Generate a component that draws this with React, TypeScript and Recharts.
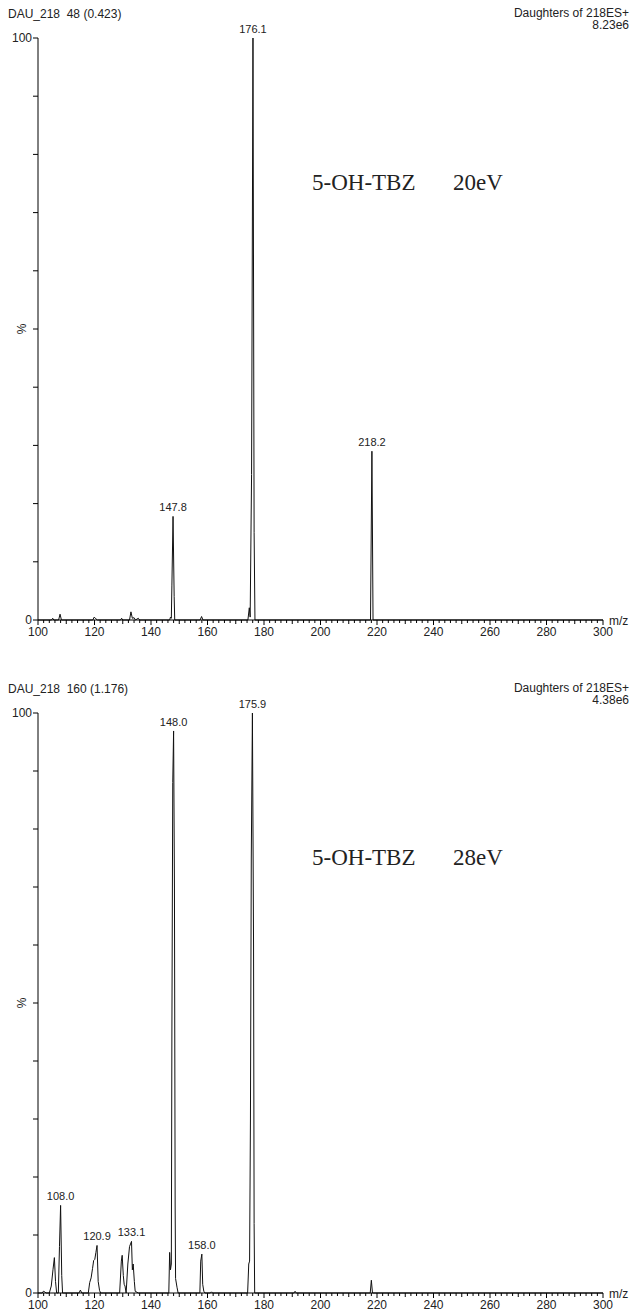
import React from "react";
import { ComposedChart, Line, Scatter, XAxis, YAxis } from "recharts";

// profile spectra: [m/z, relative intensity %]
const spectrum20eV: [number, number][] = [
  [100, 0], [104.8, 0], [105.2, 0.3], [105.6, 0], [107.3, 0], [107.8, 1.0], [108.3, 0],
  [119.4, 0], [119.9, 0.5], [120.5, 0.2], [121, 0], [129.2, 0], [129.6, 0.3], [130, 0],
  [132.4, 0], [132.9, 1.4], [133.4, 0.3], [134, 0.4], [134.5, 0], [135.5, 0.3], [136, 0],
  [146.6, 0], [146.9, 0.5], [147.2, 0.3], [147.4, 6], [147.8, 17.8], [148.2, 4], [148.4, 0],
  [157.4, 0], [157.9, 0.6], [158.4, 0], [174.3, 0], [174.8, 2.1], [175.1, 0.5],
  [175.6, 25], [176.1, 100], [176.5, 15], [176.8, 0], [217.7, 0], [218.2, 29], [218.6, 0],
  [300, 0],
];

const spectrum28eV: [number, number][] = [
  [100, 0], [101.5, 0], [101.9, 0.3], [102.4, 0.2], [102.8, 0], [104, 0], [104.7, 1.2],
  [105.3, 4], [105.8, 6.1], [106.2, 2], [106.6, 0], [107.2, 0], [107.6, 8], [108.0, 15.1],
  [108.4, 3], [108.7, 0], [114.5, 0], [115, 0.5], [115.5, 0], [117.8, 0], [118.3, 1.8],
  [118.8, 2.6], [119.3, 4.2], [119.7, 5.6], [120.1, 5.8], [120.5, 7], [120.9, 8.2],
  [121.3, 2], [121.8, 0.4], [122.2, 0], [128.9, 0], [129.5, 5.5], [129.8, 6.5], [130.2, 3],
  [130.5, 1.5], [130.8, 1.2], [131.2, 0], [131.8, 5], [132.4, 8], [133.1, 8.9], [133.4, 4],
  [133.7, 5], [134.1, 2], [134.4, 0.3], [135.5, 0], [146.3, 0], [146.6, 7], [146.9, 4],
  [147.2, 5], [147.4, 45], [147.7, 88], [148.0, 96.9], [148.3, 70], [148.55, 15],
  [148.7, 2.5], [149.2, 1], [149.6, 0], [157.3, 0], [157.6, 5.5], [158.0, 6.7], [158.3, 1.5],
  [158.7, 0.3], [159.1, 0], [161, 0], [161.4, 0.2], [161.8, 0], [174.2, 0], [174.6, 5],
  [174.9, 5.5], [175.2, 30], [175.5, 75], [175.9, 100], [176.3, 60], [176.5, 12],
  [176.7, 0], [190.6, 0], [191, 0.3], [191.4, 0], [217.6, 0], [218.0, 2.2], [218.4, 0],
  [300, 0],
];

const labels20eV = [147.8, 176.1, 218.2];
const labels28eV = [108.0, 120.9, 133.1, 148.0, 158.0, 175.9];

const majorTicks = [100, 120, 140, 160, 180, 200, 220, 240, 260, 280, 300];
const yTicks = [0, 10, 20, 30, 40, 50, 60, 70, 80, 90, 100];

const minorTicks: number[] = [];
for (let v = 100; v <= 300; v += 2) minorTicks.push(v);

const SANS = '"Liberation Sans", Arial, sans-serif';
const SERIF = '"Liberation Serif", "Times New Roman", serif';

const XTick = (props: any) => {
  const { x, y, payload } = props;
  const v = payload.value;
  const major = majorTicks.includes(v);
  const len = major ? 5 : v % 10 === 0 ? 4 : 3;
  return (
    <g>
      <line x1={x} x2={x} y1={y} y2={y + len} stroke="#000" strokeWidth={1} />
      {major && (
        <text x={x} y={y + 16} textAnchor="middle" fontSize={12} fontFamily={SANS} fill="#222">
          {v}
        </text>
      )}
    </g>
  );
};

const YTick = (props: any) => {
  const { x, y, payload } = props;
  const v = payload.value;
  return (
    <g>
      <line x1={x - 5} x2={x} y1={y} y2={y} stroke="#000" strokeWidth={1} />
      {(v === 0 || v === 100) && (
        <text x={x - 6} y={y + 4} textAnchor="end" fontSize={12} fontFamily={SANS} fill="#222">
          {v}
        </text>
      )}
      {v === 50 && (
        <text
          x={x - 16}
          y={y}
          textAnchor="middle"
          fontSize={12}
          fontFamily={SANS}
          fill="#222"
          transform={`rotate(-90 ${x - 16} ${y})`}
          dominantBaseline="central"
        >
          %
        </text>
      )}
    </g>
  );
};

const PeakLabel = (props: any) => {
  const { cx, cy, payload } = props;
  return (
    <text x={cx} y={cy - 5} textAnchor="middle" fontSize={11} fontFamily={SANS} fill="#222">
      {payload.mz.toFixed(1)}
    </text>
  );
};

interface SpectrumProps {
  top: number;
  height: number;
  axisHeight: number;
  profile: [number, number][];
  labels: number[];
  scan: string;
  tic: string;
  energy: string;
}

const Spectrum: React.FC<SpectrumProps> = ({ top, height, axisHeight, profile, labels, scan, tic, energy }) => {
  const lineData = profile.map(([mz, i]) => ({ mz, i }));
  const labelData = labels.map((mz) => {
    const hit = profile.find(([m]) => Math.abs(m - mz) < 0.01);
    return { mz, i: hit ? hit[1] : 0 };
  });
  return (
    <div style={{ position: "absolute", left: 0, top, width: 635, height }}>
      <div style={{ position: "absolute", left: 8, top: 7, fontFamily: SANS, fontSize: 12, lineHeight: "14px", whiteSpace: "pre", color: "#222" }}>
        {scan}
      </div>
      <div style={{ position: "absolute", right: 6, top: 7, fontFamily: SANS, fontSize: 12, lineHeight: "12px", textAlign: "right", color: "#222" }}>
        Daughters of 218ES+
        <br />
        {tic}
      </div>
      <div style={{ position: "absolute", left: 312, top: 171, fontFamily: SERIF, fontSize: 23, lineHeight: "24px", color: "#222" }}>
        5-OH-TBZ
      </div>
      <div style={{ position: "absolute", left: 453, top: 171, fontFamily: SERIF, fontSize: 23, lineHeight: "24px", color: "#222" }}>
        {energy}
      </div>
      <div style={{ position: "absolute", left: 609, top: height - axisHeight - 6, fontFamily: SANS, fontSize: 12, lineHeight: "14px", color: "#222" }}>
        m/z
      </div>
      <ComposedChart width={635} height={height} margin={{ top: 38, right: 32, bottom: 0, left: 0 }}>
        <XAxis
          type="number"
          dataKey="mz"
          domain={[100, 300]}
          ticks={minorTicks}
          interval={0}
          tick={<XTick />}
          tickSize={0}
          tickMargin={0}
          tickLine={false}
          axisLine={{ stroke: "#000", strokeWidth: 1 }}
          height={axisHeight}
        />
        <YAxis
          type="number"
          dataKey="i"
          domain={[0, 100]}
          ticks={yTicks}
          interval={0}
          tick={<YTick />}
          tickSize={0}
          tickMargin={0}
          tickLine={false}
          axisLine={{ stroke: "#000", strokeWidth: 1 }}
          width={38}
        />
        <Line
          data={lineData}
          dataKey="i"
          type="linear"
          stroke="#111"
          strokeWidth={1}
          dot={false}
          activeDot={false}
          isAnimationActive={false}
        />
        <Scatter data={labelData} dataKey="i" shape={<PeakLabel />} isAnimationActive={false} />
      </ComposedChart>
    </div>
  );
};

export default function App() {
  return (
    <div style={{ position: "absolute", left: 0, top: 0, width: 635, height: 1311, background: "#fff" }}>
      <Spectrum
        top={0}
        height={650}
        axisHeight={30}
        profile={spectrum20eV}
        labels={labels20eV}
        scan={"DAU_218  48 (0.423)"}
        tic="8.23e6"
        energy="20eV"
      />
      <Spectrum
        top={675}
        height={636}
        axisHeight={18}
        profile={spectrum28eV}
        labels={labels28eV}
        scan={"DAU_218  160 (1.176)"}
        tic="4.38e6"
        energy="28eV"
      />
    </div>
  );
}
